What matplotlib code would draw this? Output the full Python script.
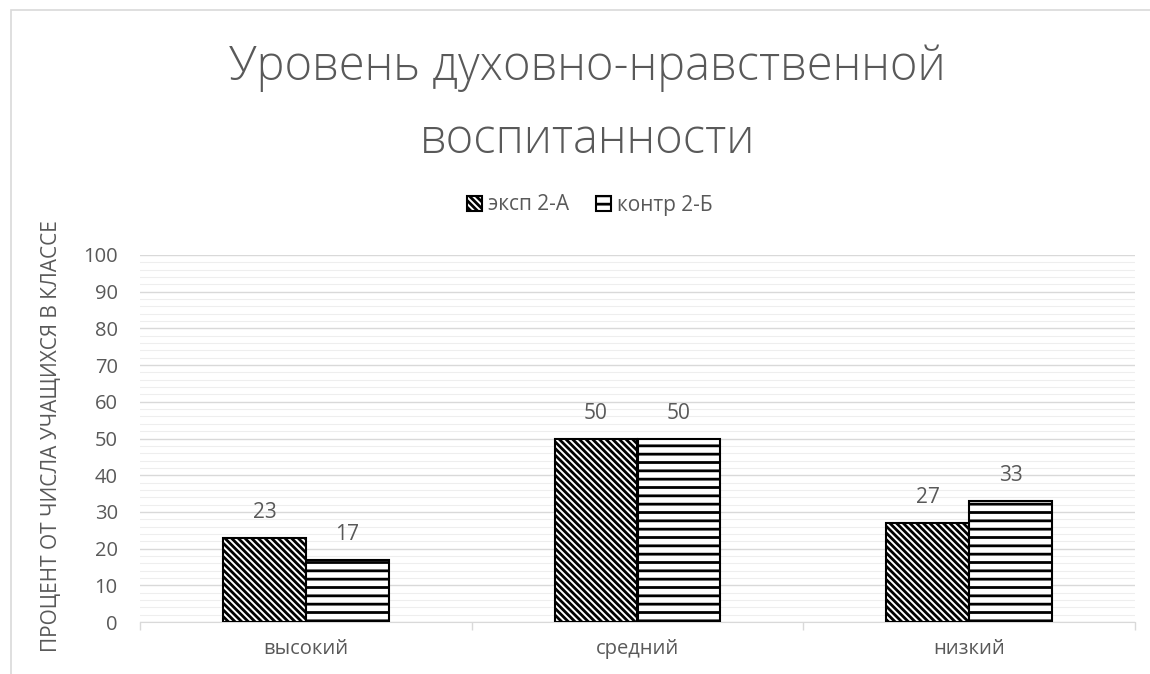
import numpy as np
import matplotlib.pyplot as plt
from matplotlib.patches import Rectangle

plt.rcParams['font.family'] = ['Open Sans', 'DejaVu Sans']
plt.rcParams['hatch.linewidth'] = 2.0

categories = ["высокий", "средний", "низкий"]
series_names = ["эксп 2-А", "контр 2-Б"]
exp_values = [23, 50, 27]
ctrl_values = [17, 50, 33]

grey = "#595959"
grid_col = "#d9d9d9"

fig = plt.figure(figsize=(11.5, 6.74), dpi=100)
# chart frame
fig.patches.append(Rectangle((11 / 1150, -0.01), 1.0, 1.0 - 10 / 674 + 0.01,
                             transform=fig.transFigure, fill=False,
                             edgecolor="#d9d9d9", linewidth=1.2))

ax = fig.add_axes([140 / 1150, 52 / 674, 995 / 1150, 367 / 674])

x = np.arange(len(categories))
w = 0.25
b1 = ax.bar(x - w / 2, exp_values, w, color="white", edgecolor="black",
            hatch="\\" * 5, linewidth=1.5, label=series_names[0], zorder=3)
b2 = ax.bar(x + w / 2, ctrl_values, w, color="white", edgecolor="black",
            hatch="--", linewidth=1.5, label=series_names[1], zorder=3)

for bars, vals in ((b1, exp_values), (b2, ctrl_values)):
    for r, v in zip(bars, vals):
        ax.annotate(str(v), (r.get_x() + r.get_width() / 2, v),
                    xytext=(0, 18), textcoords="offset points",
                    ha="center", va="center", fontsize=15, color=grey)

ax.set_xlim(-0.5, len(categories) - 0.5)
ax.set_ylim(0, 100)
ax.set_yticks(np.arange(0, 101, 10))
ax.set_yticks(np.arange(0, 101, 2), minor=True)
ax.grid(True, axis="y", which="major", color=grid_col, linewidth=1.0, zorder=0)
ax.grid(True, axis="y", which="minor", color="#eeeeee", linewidth=0.8, zorder=0)
ax.tick_params(axis="y", which="both", length=0, labelsize=14.5, labelcolor=grey, pad=16)

ax.set_xticks(x)
ax.set_xticklabels(categories)
ax.set_xticks(np.arange(-0.5, len(categories), 1), minor=True)
ax.tick_params(axis="x", which="major", length=0, labelsize=14.5, labelcolor=grey, pad=12)
ax.tick_params(axis="x", which="minor", length=6, color=grid_col, width=1.0)

for s in ("top", "right", "left"):
    ax.spines[s].set_visible(False)
ax.spines["bottom"].set_color(grid_col)

ax.set_ylabel("ПРОЦЕНТ ОТ ЧИСЛА УЧАЩИХСЯ В КЛАССЕ", fontsize=15, color=grey)
ax.yaxis.set_label_coords(-0.0784, 0.507)

fig.text(0.511, 1 - 104 / 674, "Уровень духовно-нравственной\nвоспитанности",
         ha="center", va="center", fontsize=33.8, color=grey, linespacing=1.66,
         fontweight=300)

fig.legend(handles=[b1, b2], labels=series_names, loc="center",
           bbox_to_anchor=(0.513, 1 - 205 / 674), ncol=2, frameon=False,
           fontsize=15, handlelength=0.7, handleheight=0.7, handletextpad=0.3,
           columnspacing=1.3, labelcolor=grey)

fig.savefig("out.png", dpi=100)
